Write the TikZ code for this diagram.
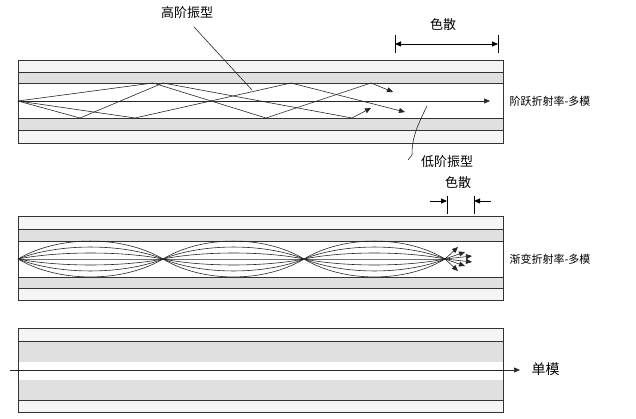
\documentclass[tikz,border=0pt]{standalone}
\usepackage{fontspec}
\setmainfont{Noto Sans CJK SC}
\usetikzlibrary{arrows.meta}
\begin{document}
\begin{tikzpicture}[x=1pt,y=-1pt,
      fiberline/.style={draw=black!80,line width=0.8pt},
      ray/.style={draw=black!85,line width=0.6pt},
      tip/.style={-{Triangle[length=6pt,width=5pt]}},
      biglabel/.style={font=\fontsize{13}{13}\selectfont},
      sidelabel/.style={font=\fontsize{11}{11}\selectfont,anchor=west}]
      \useasboundingbox (0,0) rectangle (636,419);

      % Fibre 1: step index
      \fill[black!4]  (18,60) rectangle (503,72);
      \fill[black!12] (18,72) rectangle (503,83);
      \fill[black!12] (18,118) rectangle (503,130);
      \fill[black!4]  (18,130) rectangle (503,143);
      \draw[fiberline] (18,60) rectangle (503,143);
      \foreach \y in {72,83,118,130} \draw[fiberline] (18,\y) -- (503,\y);
      \coordinate (in1) at (18,101);
      \draw[ray,tip] (in1) -- (153,83) -- (266,118) -- (371,83) -- (393,92);
      \draw[ray,tip] (in1) -- (80,118) -- (163,83) -- (352,118) -- (371,108);
      \draw[ray,tip] (in1) -- (135,118) -- (291,83) -- (405,112);
      \draw[ray,tip] (in1) -- (490,101);
      \node[sidelabel] (step) at (506,101) {阶跃折射率-多模};
      % dispersion
      \draw[line width=0.8pt] (395,35) -- (395,53) (498,35) -- (498,53);
      \draw[{Triangle[length=6pt,width=5pt]}-{Triangle[length=6pt,width=5pt]},line width=0.8pt] (395,44) -- (498,44);
      \node[biglabel] (disp1) at (443,25) {色散};
      \node[biglabel] (high) at (187,13) {高阶振型};
      \draw[ray] (194,27) -- (252,90);
      \node[biglabel] (low) at (447,162) {低阶振型};
      \draw[ray] (427,106) .. controls (415,130) and (412,140) .. (412,155) -- (408,160);

      % Fibre 2: graded index
      \fill[black!4]  (18,216) rectangle (503,229);
      \fill[black!12] (18,229) rectangle (503,241);
      \fill[black!12] (18,277) rectangle (503,288);
      \fill[black!4]  (18,288) rectangle (503,300);
      \draw[fiberline] (18,216) rectangle (503,300);
      \foreach \y in {229,241,277,288} \draw[fiberline] (18,\y) -- (503,\y);
      \foreach \xa/\xb in {18/163,163/304,304/445}
        \foreach \h in {-18,-12,-6,0,6,12,18}
          \draw[ray] (\xa,259) .. controls ({\xa+0.28*(\xb-\xa)},{259+1.33*\h}) and ({\xb-0.28*(\xb-\xa)},{259+1.33*\h}) .. (\xb,259);
      \coordinate (focus) at (445,259);
      \foreach \ex/\ey in {458/247,465/252,472/256,472/262,465/266,458/271}
        \draw[ray,tip] (focus) -- (\ex,\ey);
      \node[sidelabel] (graded) at (506,259) {渐变折射率-多模};
      \draw[line width=0.8pt] (447,196) -- (447,214) (474,196) -- (474,214);
      \draw[line width=0.8pt,tip] (430,201) -- (447,201);
      \draw[line width=0.8pt,tip] (491,201) -- (474,201);
      \node[biglabel] (disp2) at (458,183) {色散};

      % Fibre 3: single mode
      \fill[black!4]  (18,328) rectangle (503,341);
      \fill[black!12] (18,341) rectangle (503,362);
      \fill[black!12] (18,380) rectangle (503,400);
      \fill[black!4]  (18,400) rectangle (503,412);
      \draw[fiberline] (18,328) rectangle (503,412);
      \foreach \y in {341,400} \draw[fiberline] (18,\y) -- (503,\y);
      \draw[ray,tip] (10,370) -- (520,370);
      \node[sidelabel,font=\fontsize{14}{14}\selectfont] (single) at (528,369) {单模};
\end{tikzpicture}
\end{document}
